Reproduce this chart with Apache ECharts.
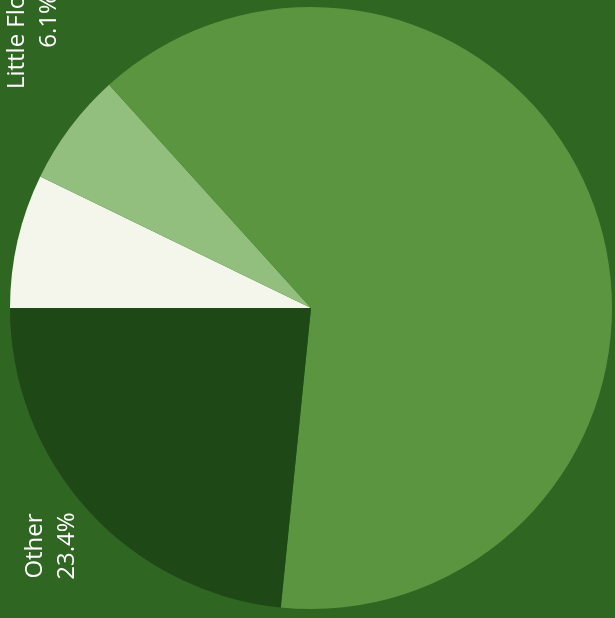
<!DOCTYPE html>
<html>
<head>
<meta charset="utf-8">
<script src="https://cdn.jsdelivr.net/npm/echarts@6/dist/echarts.min.js"></script>
<style>
  html, body { margin: 0; padding: 0; background: #2f6621; }
  #chart { width: 615px; height: 618px; }
</style>
</head>
<body>
<div id="chart"></div>
<script>
// Data (clockwise from 9 o'clock)
const categories = ['Other Source', 'Little Flower', 'Main Source', 'Other'];
const shares = [7.2, 6.1, 63.3, 23.4];
const shownLabels = ['Little Flower', 'Other'];

const sliceColors = ['#f4f6ec', '#92bf7d', '#5c9540', '#1e4815'];
const labelSpots = { 'Little Flower': [33, 21], 'Other': [51, 546] };

const chart = echarts.init(document.getElementById('chart'), null, { renderer: 'canvas' });
chart.setOption({
  backgroundColor: '#2f6621',
  animation: false,
  series: [{
    type: 'pie',
    center: [311, 308],
    radius: [0, 301],
    startAngle: 180,
    clockwise: true,
    itemStyle: { borderWidth: 0 },
    emphasis: { disabled: true },
    data: categories.map((c, i) => ({
      name: c,
      value: shares[i],
      itemStyle: { color: sliceColors[i], borderWidth: 0 },
      label: { show: shownLabels.includes(c) }
    })),
    label: {
      position: 'outside',
      formatter: p => p.name + '\n' + p.value.toFixed(1) + '%',
      color: '#ffffff',
      fontFamily: 'Open Sans',
      fontSize: 24,
      lineHeight: 32,
      align: 'center',
      verticalAlign: 'middle',
      rotate: 90
    },
    labelLine: { show: false },
    labelLayout: function (params) {
      const name = categories[params.dataIndex];
      const spot = labelSpots[name];
      if (!spot) return {};
      return { x: spot[0], y: spot[1], rotate: 90, align: 'center', verticalAlign: 'middle' };
    }
  }]
});
</script>
</body>
</html>
